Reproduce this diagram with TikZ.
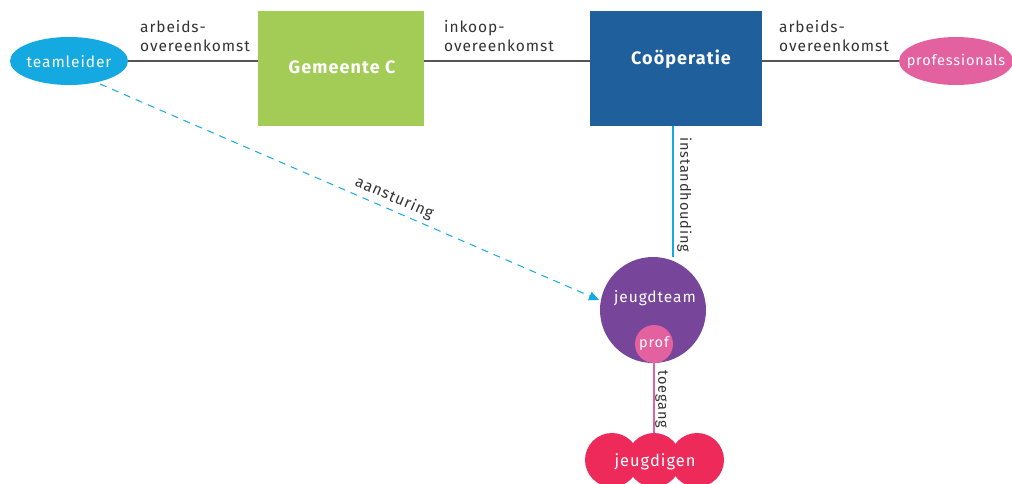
\documentclass[tikz,border=0pt]{standalone}
\usepackage{fontspec}
\setmainfont[LetterSpace=6]{Fira Sans}
\usetikzlibrary{arrows.meta,shapes.geometric}
\definecolor{cblue}{HTML}{14A9E0}
\definecolor{cgreen}{HTML}{A2CC56}
\definecolor{cdark}{HTML}{1F5F9C}
\definecolor{cpink}{HTML}{E461A0}
\definecolor{cpurple}{HTML}{77459A}
\definecolor{cred}{HTML}{EE2A5B}
\definecolor{cgray}{HTML}{555555}
\definecolor{ctext}{HTML}{333333}
\tikzset{
  ell/.style={ellipse, inner sep=0pt},
  wtext/.style={text=white, inner sep=0pt, font=\fontsize{15.5}{17}\selectfont},
  boxnode/.style={rectangle, inner sep=0pt},
  boxtext/.style={text=white, inner sep=0pt, font=\fontsize{18}{20}\selectfont\bfseries},
  lbl/.style={text=ctext, font=\fontsize{15.5}{19}\selectfont, align=left, inner sep=0pt},
  conn/.style={cgray, line width=1.2pt},
  jcirc/.style={circle, fill=cred, minimum size=54pt, inner sep=0pt},
}
\begin{document}
\begin{tikzpicture}[x=1pt,y=-1pt]
\clip (0,0) rectangle (1012,484);
\useasboundingbox (0,0) rectangle (1012,484);
% nodes
\node[ell, fill=cblue, minimum width=118pt, minimum height=48pt] (tl) at (69,61) {};
\node[wtext] (tlt) at (69,62) {teamleider};
\node[boxnode, fill=cgreen, minimum width=166pt, minimum height=115pt] (gem) at (341,68.5) {};
\node[boxtext] (gemt) at (342,67) {Gemeente C};
\node[boxnode, fill=cdark, minimum width=172pt, minimum height=115pt] (coop) at (676,68.5) {};
\node[boxtext] (coopt) at (681,59) {Coöperatie};
\node[ell, fill=cpink, minimum width=114pt, minimum height=48pt] (prof) at (956,61) {};
\node[wtext, font=\fontsize{14.5}{16}\selectfont] (proft) at (956,61) {professionals};
\node[circle, fill=cpurple, minimum size=106pt, inner sep=0pt] (jt) at (653,310) {};
\node[wtext] (jtt) at (655,298) {jeugdteam};
\node[circle, fill=cpink, minimum size=38pt, inner sep=0pt] (pf) at (654,344) {};
\node[wtext, font=\fontsize{14.5}{16}\selectfont] (pft) at (654,344) {prof};
\node[jcirc] (j1) at (612,460) {};
\node[jcirc] (j3) at (697,460) {};
\node[jcirc] (j2) at (654,460) {};
\node[wtext, font=\fontsize{16.5}{18}\selectfont] (jt2) at (655,462) {jeugdigen};
% connectors
\draw[conn] (tl.east) -- (tl.east -| gem.west);
\draw[conn] (gem.east |- tl.east) -- (coop.west |- tl.east);
\draw[conn] (coop.east |- tl.east) -- (prof.west);
\coordinate (ci) at (673,126);
\draw[cblue, line width=1.2pt] (ci) -- (ci |- jt.north);
\draw[cpink, line width=1.2pt] (pf.south) -- (j2.north);
\coordinate (ds) at (100,84);
\coordinate (de) at (599,300);
\draw[cblue, line width=1pt, dash pattern=on 7pt off 6pt, -{Triangle[length=10pt,width=9pt]}] (ds) -- (de) node[pos=0.58, sloped, above=4pt, lbl] (aan) {aansturing};
% labels
\node[lbl, anchor=north west] (l1) at (140,20) {arbeids-\\overeenkomst};
\node[lbl, anchor=north west] (l2) at (444,20) {inkoop-\\overeenkomst};
\node[lbl, anchor=north west] (l3) at (779,20) {arbeids-\\overeenkomst};
\node[lbl, rotate=-90, anchor=north west, font=\fontsize{14.5}{16}\selectfont] (l4) at (692,137) {instandhouding};
\node[lbl, rotate=-90, anchor=north west, font=\fontsize{14.5}{16}\selectfont] (l5) at (668,370) {toegang};
\end{tikzpicture}
\end{document}
